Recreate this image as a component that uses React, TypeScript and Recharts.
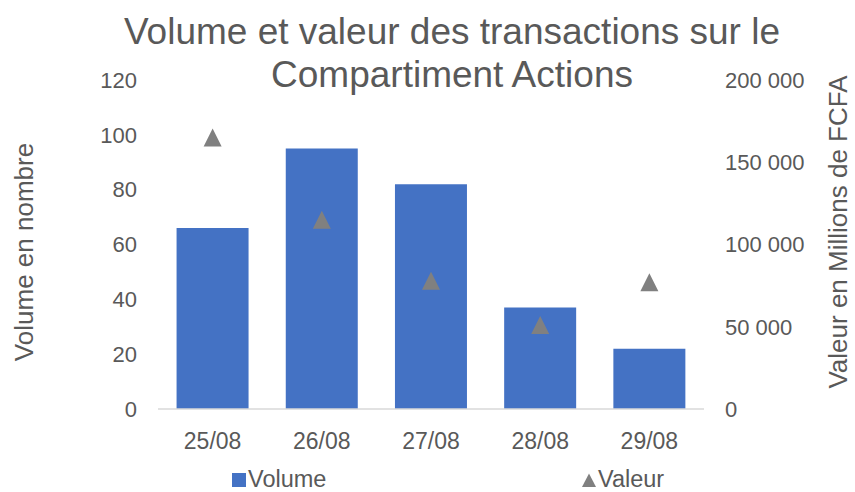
import React from 'react';
import { ComposedChart, Bar, Line, XAxis, YAxis, Legend, Label } from 'recharts';

const categories = ['25/08', '26/08', '27/08', '28/08', '29/08'];
const volumeValues = [66, 95, 82, 37, 22];
const valeurValues = [165000, 115000, 78000, 51000, 77000];
const leftTicks = [0, 20, 40, 60, 80, 100, 120];
const rightTicks = [0, 50000, 100000, 150000, 200000];

const data = categories.map((c, i) => ({ date: c, volume: volumeValues[i], valeur: valeurValues[i] }));

const FONT = '"Liberation Sans", Arial, sans-serif';
const TEXT = '#595959';
const BLUE = '#4472C4';
const GREY = '#808080';

const fmt = (v: number) => String(v).replace(/\B(?=(\d{3})+(?!\d))/g, ' ');

const Triangle = (props: any) => {
  const { cx, cy } = props;
  if (cx == null || cy == null) return null;
  const h = 9;
  return <polygon points={`${cx},${cy - h} ${cx - h},${cy + h} ${cx + h},${cy + h}`} fill={GREY} />;
};

const LegendContent = (props: any) => {
  const payload = props.payload || [];
  const vol = payload.find((p: any) => p.dataKey === 'volume');
  const val = payload.find((p: any) => p.dataKey === 'valeur');
  return (
    <svg width={855} height={22} style={{ overflow: 'visible', display: 'block' }}>
      {vol && (
        <g>
          <rect x={232} y={3} width={14} height={14} fill={BLUE} />
          <text x={248} y={16.5} fontSize={23.5} fill={TEXT} fontFamily={FONT}>{vol.value}</text>
        </g>
      )}
      {val && (
        <g>
          <polygon points="582,17 596,17 589,3.5" fill={GREY} />
          <text x={598} y={16.5} fontSize={23.5} fill={TEXT} fontFamily={FONT}>{val.value}</text>
        </g>
      )}
    </svg>
  );
};

const LeftTitle = () => (
  <text x={33} y={252} transform="rotate(-90 33 252)" textAnchor="middle" fontSize={26} fill={TEXT} fontFamily={FONT}>
    Volume en nombre
  </text>
);

const RightTitle = () => (
  <text x={847} y={232} transform="rotate(-90 847 232)" textAnchor="middle" fontSize={26} fill={TEXT} fontFamily={FONT}>
    Valeur en Millions de FCFA
  </text>
);

export default function App() {
  return (
    <div style={{ position: 'absolute', left: 0, top: 0, width: 855, height: 492, background: '#fff', fontFamily: FONT }}>
      <div
        style={{
          position: 'absolute',
          left: 52,
          top: 9.7,
          width: 800,
          textAlign: 'center',
          fontSize: 37,
          lineHeight: '43px',
          color: TEXT,
          zIndex: 2,
          pointerEvents: 'none',
        }}
      >
        Volume et valeur des transactions sur le
        <br />
        Compartiment Actions
      </div>
      <ComposedChart
        width={855}
        height={492}
        data={data}
        margin={{ top: 80, right: 0, bottom: 0, left: 0 }}
        barCategoryGap="17%"
      >
        <XAxis
          dataKey="date"
          tickLine={false}
          tickSize={0}
          tickMargin={24}
          height={61}
          axisLine={{ stroke: '#D9D9D9', strokeWidth: 1.5 }}
          tick={{ fontSize: 23, fill: TEXT, fontFamily: FONT }}
        />
        <YAxis
          yAxisId="left"
          orientation="left"
          width={158}
          domain={[0, 120]}
          ticks={leftTicks}
          axisLine={false}
          tickLine={false}
          tickSize={0}
          tickMargin={21}
          tick={{ fontSize: 22, fill: TEXT, fontFamily: FONT }}
        >
          <Label content={<LeftTitle />} />
        </YAxis>
        <YAxis
          yAxisId="right"
          orientation="right"
          width={151}
          domain={[0, 200000]}
          ticks={rightTicks}
          tickFormatter={fmt}
          axisLine={false}
          tickLine={false}
          tickSize={0}
          tickMargin={21}
          tick={{ fontSize: 22, fill: TEXT, fontFamily: FONT, textAnchor: 'start' }}
        >
          <Label content={<RightTitle />} />
        </YAxis>
        <Bar yAxisId="left" dataKey="volume" name="Volume" fill={BLUE} isAnimationActive={false} />
        <Line
          yAxisId="right"
          dataKey="valeur"
          name="Valeur"
          stroke="none"
          strokeWidth={0}
          dot={<Triangle />}
          activeDot={false}
          legendType="triangle"
          isAnimationActive={false}
        />
        <Legend
          verticalAlign="bottom"
          content={<LegendContent />}
          wrapperStyle={{ position: 'absolute', left: 0, top: 470, width: 855, height: 22 }}
        />
      </ComposedChart>
    </div>
  );
}
